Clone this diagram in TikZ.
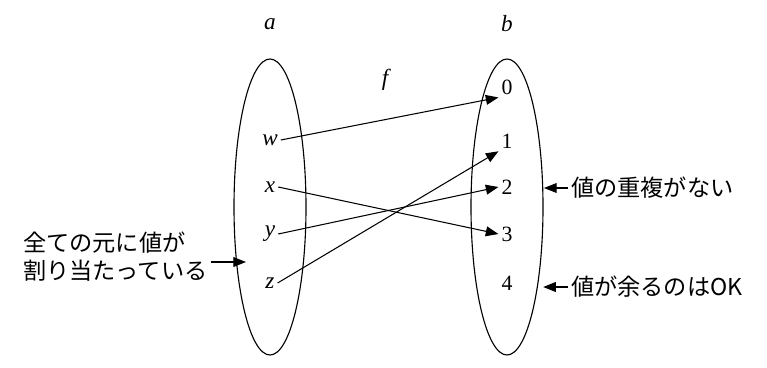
\documentclass[tikz,border=0pt]{standalone}
\usepackage{fontspec}
\setmainfont{Liberation Serif}
\newfontfamily\jpfont{Noto Sans CJK JP}
\usepackage{tikz}
\usetikzlibrary{shapes.geometric, arrows.meta, positioning}

\begin{document}
\begin{tikzpicture}[
  set/.style={ellipse, draw, line width=0.8pt, minimum width=1.8cm, minimum height=7.4cm, inner sep=0pt},
  elem/.style={font=\fontsize{15.5}{18}\selectfont, inner sep=2pt},
  var/.style={font=\fontsize{16.5}{18}\selectfont\itshape, inner sep=2pt},
  setname/.style={font=\fontsize{16.5}{18}\selectfont\itshape},
  arrow/.style={-{Triangle[length=9pt,width=7pt]}, line width=0.75pt},
  note/.style={font=\fontsize{16.5}{19.5}\selectfont\jpfont, align=left, inner sep=2pt}
]
\useasboundingbox (0,0) rectangle (19.175,9.175);

% Sets
\node[set] (A) at (6.75,4.0) {};
\node[set] (B) at (12.675,4.0) {};
\node[setname] (aname) at (6.75,8.575) {a};
\node[setname] (bname) at (12.675,8.575) {b};
\node[setname] (fname) at (9.625,7.175) {f};

% Elements of a
\node[var] (w) at (6.75,5.675) {w};
\node[var] (x) at (6.75,4.5) {x};
\node[var] (y) at (6.75,3.325) {y};
\node[var] (z) at (6.75,2.1) {z};

% Elements of b
\node[elem] (b0) at (12.675,7.0) {0};
\node[elem] (b1) at (12.675,5.65) {1};
\node[elem] (b2) at (12.675,4.5) {2};
\node[elem] (b3) at (12.675,3.325) {3};
\node[elem] (b4) at (12.675,2.1) {4};

% Mapping f
\draw[arrow] (w.east) -- (b0.south west);
\draw[arrow] (x.east) -- (b3.west);
\draw[arrow] (y.east) -- (b2.west);
\draw[arrow] (z.east) -- (b1.south west);

% Notes
\node[note, anchor=west] (total) at (0.5,2.76) {全ての元に値が\\割り当たっている};
\coordinate (tipA) at (6.15,2.625);
\draw[arrow] (total.east |- tipA) -- (tipA);

\node[note, anchor=west] (inj) at (14.2,4.475) {値の重複がない};
\coordinate (tipB) at (13.6,4.475);
\draw[arrow] (inj.west) -- (tipB);

\node[note, anchor=west] (rest) at (14.2,2.0) {値が余るのはOK};
\coordinate (tipC) at (13.58,2.0);
\draw[arrow] (rest.west) -- (tipC);
\end{tikzpicture}
\end{document}
